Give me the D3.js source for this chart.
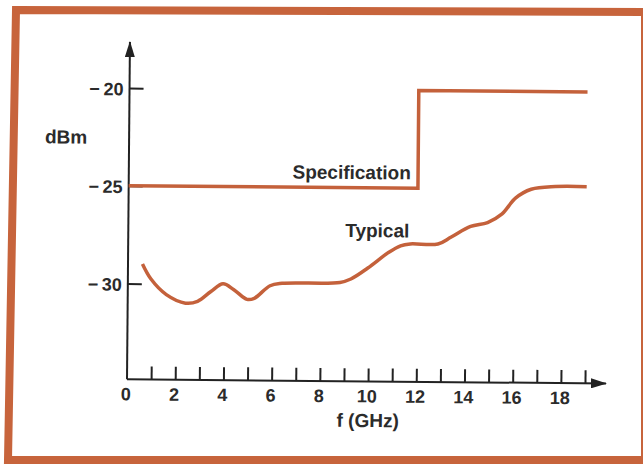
<!DOCTYPE html>
<head>
  <meta charset="utf-8">
  <script src="https://d3js.org/d3.v7.min.js"></script>
  <style>
body { margin: 0; background: #fff; }
text {
    font-family: "Liberation Sans", Arial, sans-serif;
    font-weight: 700;
    fill: #2b2b2b;
}
.tick line { stroke: #222; stroke-width: 2px; }
.tick text { font-size: 18px; }
.curve { fill: none; stroke: #c4613b; stroke-width: 3.5px; }
  </style>
</head>

<body>
  <script>

    // frequency ticks (GHz) and level ticks (dBm)
    var freqTicks = d3.range(1, 20);
    var freqLabels = [0, 2, 4, 6, 8, 10, 12, 14, 16, 18];
    var levelTicks = [-20, -25, -30];

    // specification limit: -25 dBm up to 12 GHz, -20 dBm above
    var specFreq = [0, 12, 12, 19];
    var specLevel = [-25, -25, -20, -20];

    // typical measured curve
    var typFreq = [0.6, 0.95, 1.6, 2.4, 2.9, 3.45, 3.95, 4.4, 4.95, 5.25, 5.9, 6.4, 8.8, 9.25,
                   9.95, 10.8, 11.3, 11.7, 12.85, 13.4, 14.2, 14.9, 15.5, 16.05, 16.7, 17.7, 19];
    var typLevel = [-29.0, -29.75, -30.55, -30.98, -30.88, -30.37, -29.97, -30.27, -30.76, -30.7,
                    -30.05, -29.92, -29.85, -29.67, -29.1, -28.3, -27.95, -27.85, -27.84, -27.48,
                    -26.93, -26.72, -26.27, -25.46, -25.0, -24.85, -24.84];

    var width = 643, height = 464;
    var floorLevel = -34.9; // where the frequency axis crosses

    var svg = d3.select("body").append("svg")
      .attr("width", width)
      .attr("height", height);

    // orange frame round the figure
    svg.append("path")
      .attr("d", "M16,10 L645,12 L645,460 L8,460 Z")
      .attr("fill", "none")
      .attr("stroke", "#c7643c")
      .attr("stroke-width", 8);

    var x = d3.scaleLinear().domain([0, 19]).range([127, 585]);
    var y = d3.scaleLinear().domain([-30, -20]).range([283.5, 88]);

    // the scan is turned a little clockwise
    var g = svg.append("g")
      .attr("transform", "rotate(0.5," + x(0) + "," + y(floorLevel) + ")");

    var defs = svg.append("defs");
    defs.append("marker")
      .attr("id", "arrow")
      .attr("viewBox", "0 0 16 10")
      .attr("refX", 15).attr("refY", 5)
      .attr("markerWidth", 16).attr("markerHeight", 10)
      .attr("markerUnits", "userSpaceOnUse")
      .attr("orient", "auto")
      .append("path")
      .attr("d", "M0,0 L16,5 L0,10 Z")
      .attr("fill", "#222");

    // axis lines with arrow heads
    g.append("line")
      .attr("x1", x(0)).attr("y1", y(floorLevel))
      .attr("x2", x(0)).attr("y2", 42)
      .attr("stroke", "#222").attr("stroke-width", 2)
      .attr("marker-end", "url(#arrow)");
    g.append("line")
      .attr("x1", x(0)).attr("y1", y(floorLevel))
      .attr("x2", 606).attr("y2", y(floorLevel))
      .attr("stroke", "#222").attr("stroke-width", 2)
      .attr("marker-end", "url(#arrow)");

    // x ticks point up into the plot
    var xAxis = g.append("g")
      .attr("transform", "translate(0," + y(floorLevel) + ")")
      .call(d3.axisBottom(x).tickValues(freqTicks).tickSize(-13).tickFormat(""));
    xAxis.select(".domain").remove();

    g.append("g").selectAll("text")
      .data(freqLabels)
      .enter().append("text")
      .attr("x", d => x(d) - 1)
      .attr("y", y(floorLevel) + 21)
      .attr("text-anchor", "middle")
      .style("font-size", "18px")
      .text(d => d);

    var yAxis = g.append("g")
      .attr("transform", "translate(" + x(0) + ",0)")
      .call(d3.axisLeft(y).tickValues(levelTicks).tickSize(-14).tickPadding(6)
        .tickFormat(d => "\u2212\u2009" + Math.abs(d)));
    yAxis.select(".domain").remove();
    yAxis.selectAll(".tick text").attr("dy", "0.38em");

    var line = d3.line()
      .x(d => x(d[0]))
      .y(d => y(d[1]));

    g.append("path")
      .attr("class", "curve")
      .attr("d", line(d3.zip(specFreq, specLevel)));

    g.append("path")
      .attr("class", "curve")
      .attr("d", line.curve(d3.curveCatmullRom.alpha(0.5))(d3.zip(typFreq, typLevel)));

    // labels
    g.append("text")
      .attr("x", 64).attr("y", 144)
      .attr("text-anchor", "middle")
      .style("font-size", "19px")
      .text("dBm");

    g.append("text")
      .attr("x", x(10)).attr("y", 425)
      .attr("text-anchor", "middle")
      .style("font-size", "19px")
      .text("f (GHz)");

    g.append("text")
      .attr("x", 409).attr("y", 177)
      .attr("text-anchor", "end")
      .style("font-size", "19px")
      .text("Specification");

    g.append("text")
      .attr("x", 408).attr("y", 235)
      .attr("text-anchor", "end")
      .style("font-size", "19px")
      .text("Typical");

  </script>
</body>
